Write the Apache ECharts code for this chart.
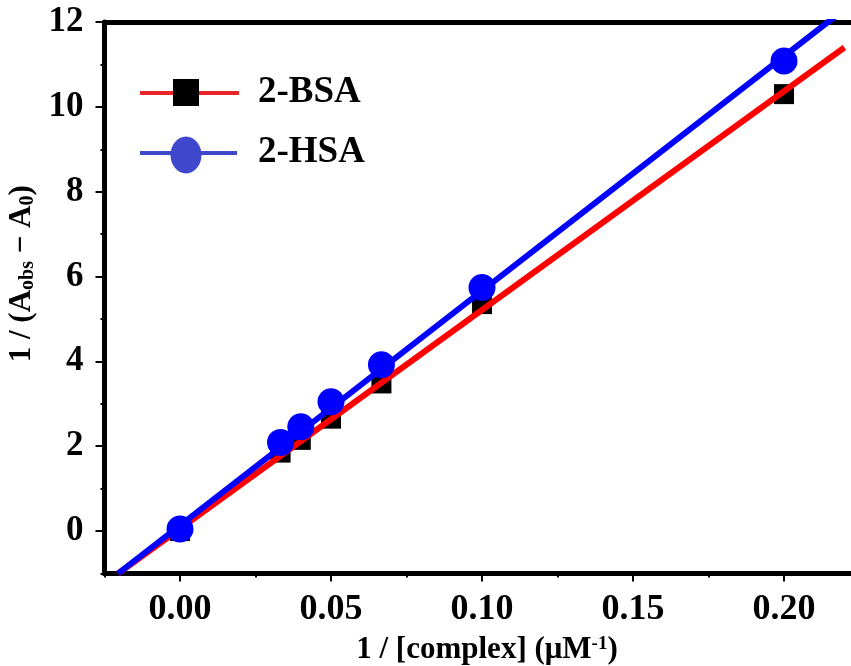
<!DOCTYPE html>
<html>
<head>
<meta charset="utf-8">
<script src="https://cdn.jsdelivr.net/npm/echarts@6/dist/echarts.min.js"></script>
<style>html,body{margin:0;padding:0;background:#fff}#c{width:851px;height:666px}</style>
</head>
<body>
<div id="c"></div>
<script>
// Data
const xValues = [0, 0.0333, 0.04, 0.05, 0.0667, 0.1, 0.2];
const bsaValues = [0.0, 1.85, 2.15, 2.65, 3.48, 5.35, 10.3];
const hsaValues = [0.05, 2.09, 2.46, 3.05, 3.92, 5.74, 11.08];
// Linear-fit line end points
const fitX = [-0.0205, 0.220];
const bsaFit = [-1.0, 11.4];
const hsaFit = [-1.0, 12.3];
// Tick values
const xTicks = [0, 0.05, 0.10, 0.15, 0.20];
const xMinorTicks = [-0.025, 0.025, 0.075, 0.125, 0.175, 0.225];
const yTicks = [0, 2, 4, 6, 8, 10, 12];
const yMinorTicks = [-1, 1, 3, 5, 7, 9, 11];
const seriesNames = ['2-BSA', '2-HSA'];

const FONT = '"Liberation Serif", "Times New Roman", serif';
const pair = (xs, ys) => xs.map((x, i) => [x, ys[i]]);

const chart = echarts.init(document.getElementById('c'));
const axisLineStyle = {show: true, onZero: false, lineStyle: {color: '#000', width: 5}};
const noLine = {show: false, onZero: false};
chart.setOption({
  animation: false,
  backgroundColor: '#fff',
  grid: {left: 104.5, top: 22, width: 755, height: 551.5, containLabel: false, outerBoundsMode: 'none'},
  xAxis: [
    {
      type: 'value', position: 'bottom', min: -0.025, max: 0.225,
      axisLine: axisLineStyle,
      axisTick: {show: true, length: 8, customValues: xTicks, lineStyle: {color: '#000', width: 2}},
      axisLabel: {customValues: xTicks, formatter: v => v.toFixed(2), margin: 18,
        fontFamily: FONT, fontWeight: 'bold', fontSize: 36, color: '#000'},
      splitLine: {show: false},
      name: '1 / [complex] (μM{sup|-1})',
      nameLocation: 'middle', nameGap: 61,
      nameTextStyle: {fontFamily: FONT, fontSize: 31, color: '#000', fontWeight: 'bold', padding: [0, 0, 0, 10],
        rich: {sup: {fontFamily: FONT, fontSize: 19, color: '#000', fontWeight: 'bold', verticalAlign: 'top', padding: [0,0,12,0]}}}
    },
    {
      type: 'value', position: 'bottom', min: -0.025, max: 0.225,
      axisLine: noLine,
      axisTick: {show: true, length: 4, customValues: xMinorTicks, lineStyle: {color: '#000', width: 2}},
      axisLabel: {show: false}, splitLine: {show: false}
    },
    {
      type: 'value', position: 'top', min: -0.025, max: 0.225,
      axisLine: axisLineStyle, axisTick: {show: false}, axisLabel: {show: false}, splitLine: {show: false}
    }
  ],
  yAxis: [
    {
      type: 'value', position: 'left', min: -1, max: 12,
      axisLine: axisLineStyle,
      axisTick: {show: true, length: 9, customValues: yTicks, lineStyle: {color: '#000', width: 2}},
      axisLabel: {customValues: yTicks, margin: 21,
        fontFamily: FONT, fontWeight: 'bold', fontSize: 35, color: '#000'},
      splitLine: {show: false},
      name: '1 / (A{sub|obs} − A{sub|0})',
      nameLocation: 'middle', nameGap: 58,
      nameTextStyle: {fontFamily: FONT, fontSize: 31, color: '#000', fontWeight: 'bold', padding: [0, 0, 0, 48],
        rich: {sub: {fontFamily: FONT, fontSize: 20, color: '#000', fontWeight: 'bold', verticalAlign: 'bottom', padding: [9,0,0,0]}}}
    },
    {
      type: 'value', position: 'left', min: -1, max: 12,
      axisLine: noLine,
      axisTick: {show: true, length: 4, customValues: yMinorTicks, lineStyle: {color: '#000', width: 2}},
      axisLabel: {show: false}, splitLine: {show: false}
    },
    {
      type: 'value', position: 'right', min: -1, max: 12,
      axisLine: axisLineStyle, axisTick: {show: false}, axisLabel: {show: false}, splitLine: {show: false}
    }
  ],
  series: [
    {
      name: seriesNames[0], type: 'scatter', symbol: 'rect', symbolSize: 20, z: 2,
      itemStyle: {color: '#000', opacity: 1}, data: pair(xValues, bsaValues)
    },
    {
      name: seriesNames[0] + ' fit', type: 'line', showSymbol: false, symbol: 'none', z: 3,
      lineStyle: {color: '#ff0000', width: 6}, data: pair(fitX, bsaFit)
    },
    {
      name: seriesNames[1] + ' fit', type: 'line', showSymbol: false, symbol: 'none', z: 4,
      lineStyle: {color: '#0000ff', width: 6}, data: pair(fitX, hsaFit)
    },
    {
      name: seriesNames[1], type: 'scatter', symbol: 'circle', symbolSize: 27, z: 5,
      itemStyle: {color: '#0000ff', opacity: 1}, data: pair(xValues, hsaValues)
    }
  ],
  graphic: [
    {type: 'line', shape: {x1: 140, y1: 93, x2: 239, y2: 93}, style: {stroke: '#e8262a', lineWidth: 4}, z: 10},
    {type: 'rect', shape: {x: 173, y: 79, width: 26, height: 27}, style: {fill: '#000'}, z: 11},
    {type: 'text', left: 258, top: 74, style: {text: seriesNames[0], fontFamily: FONT, fontWeight: 'bold', fontSize: 37, fill: '#000'}, z: 12},
    {type: 'line', shape: {x1: 140, y1: 153, x2: 237, y2: 153}, style: {stroke: '#3f48cc', lineWidth: 4}, z: 10},
    {type: 'ellipse', shape: {cx: 186, cy: 155, rx: 15.5, ry: 18.5}, style: {fill: '#3f48cc'}, z: 11},
    {type: 'text', left: 258, top: 134, style: {text: seriesNames[1], fontFamily: FONT, fontWeight: 'bold', fontSize: 37, fill: '#000'}, z: 12}
  ]
});
</script>
</body>
</html>
